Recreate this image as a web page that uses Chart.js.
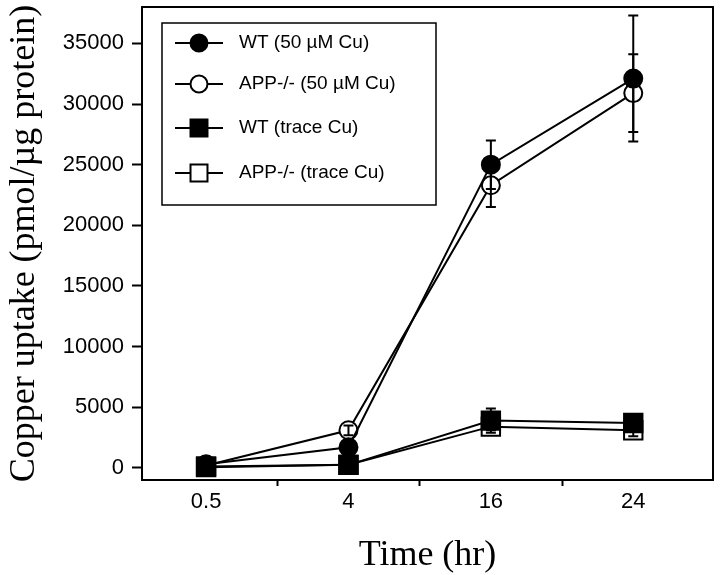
<!DOCTYPE html>
<html>
<head>
<meta charset="utf-8">
<script src="https://cdn.jsdelivr.net/npm/chart.js@4"></script>
<style>
  html, body { margin: 0; padding: 0; background: #fff; }
  #wrap { width: 720px; height: 575px; }
</style>
</head>
<body>
<div id="wrap"><canvas id="copperChart" width="720" height="575"></canvas></div>
<script>
const times = ['0.5', '4', '16', '24'];
const yTicks = [0, 5000, 10000, 15000, 20000, 25000, 30000, 35000];

const wt50 = [300, 1700, 25000, 32100];
const app50 = [200, 3100, 23300, 30900];
const wtTrace = [120, 250, 3900, 3700];
const appTrace = [60, 250, 3400, 3100];

const wt50Err = [0, 0, 2000, 5200];
const app50Err = [0, 400, 1800, 3200];
const wtTraceErr = [0, 0, 1000, 300];
const appTraceErr = [0, 0, 300, 500];

const legendLabels = ['WT (50 µM Cu)', 'APP-/- (50 µM Cu)', 'WT (trace Cu)', 'APP-/- (trace Cu)'];

function toPoints(values) {
  return values.map((v, i) => ({ x: i, y: v }));
}

function makeSet(label, values, errs, style, filled, order) {
  return {
    label: label,
    data: toPoints(values),
    errors: errs,
    order: order,
    borderColor: '#000',
    borderWidth: 2,
    pointStyle: style,
    pointRadius: style === 'rect' ? 13 : 9,
    pointBorderWidth: 2,
    pointBorderColor: '#000',
    pointBackgroundColor: filled ? '#000' : '#fff',
    tension: 0,
    fill: false,
    clip: false
  };
}

// error bars, drawn after the markers
const errorBars = {
  id: 'errorBars',
  afterDatasetsDraw(chart) {
    const ctx = chart.ctx;
    const xs = chart.scales.x, ys = chart.scales.y;
    ctx.save();
    ctx.strokeStyle = '#000';
    ctx.lineWidth = 2;
    chart.data.datasets.forEach(ds => {
      ds.data.forEach((p, i) => {
        const e = ds.errors[i];
        if (!e) return;
        const x = xs.getPixelForValue(p.x);
        const yTop = ys.getPixelForValue(p.y + e);
        const yBot = ys.getPixelForValue(p.y - e);
        ctx.beginPath();
        ctx.moveTo(x, yTop); ctx.lineTo(x, yBot);
        ctx.moveTo(x - 5, yTop); ctx.lineTo(x + 5, yTop);
        ctx.moveTo(x - 5, yBot); ctx.lineTo(x + 5, yBot);
        ctx.stroke();
      });
    });
    ctx.restore();
  }
};

// frame around plot area and the boxed legend inside it
const frameAndLegend = {
  id: 'frameAndLegend',
  afterDraw(chart) {
    const ctx = chart.ctx;
    const a = chart.chartArea;
    ctx.save();
    ctx.strokeStyle = '#000';
    ctx.lineWidth = 2;
    ctx.strokeRect(a.left, a.top, a.right - a.left, a.bottom - a.top);

    const bx = a.left + 20, by = a.top + 16, bw = 274, bh = 182;
    ctx.lineWidth = 1.5;
    ctx.strokeRect(bx, by, bw, bh);

    const rows = [20, 61, 105, 150];
    const sets = [0, 1, 2, 3].map(k => chart.data.datasets.find(d => d.label === legendLabels[k]));
    ctx.font = '19px "Liberation Sans", Arial, sans-serif';
    ctx.textBaseline = 'middle';
    ctx.textAlign = 'left';
    sets.forEach((ds, k) => {
      const cy = by + rows[k];
      ctx.lineWidth = 2;
      ctx.strokeStyle = '#000';
      ctx.beginPath();
      ctx.moveTo(bx + 13, cy); ctx.lineTo(bx + 61, cy);
      ctx.stroke();
      ctx.fillStyle = ds.pointBackgroundColor;
      Chart.helpers.drawPoint(ctx, {
        pointStyle: ds.pointStyle,
        radius: ds.pointStyle === 'rect' ? 12 : 8.5,
        rotation: 0,
        borderWidth: 2
      }, bx + 37, cy);
      ctx.fillStyle = '#000';
      ctx.fillText(ds.label, bx + 77, cy);
    });
    ctx.restore();
  }
};

const whiteBg = {
  id: 'whiteBg',
  beforeDraw(chart) {
    const ctx = chart.ctx;
    ctx.save();
    ctx.fillStyle = '#fff';
    ctx.fillRect(0, 0, chart.width, chart.height);
    ctx.restore();
  }
};

const tickFont = { family: '"Liberation Sans", Arial, sans-serif', size: 22 };
const titleFont = { family: '"Liberation Serif", "Times New Roman", serif', size: 36, lineHeight: 1.1 };

function noPad(s) {
  s.paddingTop = 0; s.paddingBottom = 0; s.paddingLeft = 0; s.paddingRight = 0;
}

new Chart(document.getElementById('copperChart').getContext('2d'), {
  type: 'line',
  data: {
    datasets: [
      makeSet(legendLabels[0], wt50, wt50Err, 'circle', true, 0),
      makeSet(legendLabels[1], app50, app50Err, 'circle', false, 2),
      makeSet(legendLabels[2], wtTrace, wtTraceErr, 'rect', true, 1),
      makeSet(legendLabels[3], appTrace, appTraceErr, 'rect', false, 3)
    ]
  },
  options: {
    responsive: false,
    devicePixelRatio: 1,
    animation: false,
    layout: { autoPadding: false, padding: { top: 7, right: 7, bottom: 0, left: 0 } },
    plugins: {
      legend: { display: false },
      tooltip: { enabled: false }
    },
    scales: {
      x: {
        type: 'linear',
        min: -0.45,
        max: 3.56,
        afterBuildTicks: s => {
          const t = [];
          times.forEach((_, i) => {
            t.push({ value: i });
            if (i < times.length - 1) t.push({ value: i + 0.5 });
          });
          s.ticks = t;
        },
        afterFit: s => { s.height = 95; noPad(s); },
        ticks: {
          autoSkip: false,
          maxRotation: 0,
          color: '#000',
          font: tickFont,
          padding: 3,
          callback: v => Number.isInteger(v) ? times[v] : ''
        },
        grid: {
          drawOnChartArea: false,
          tickLength: 6,
          tickWidth: 2,
          tickColor: c => (c.tick && c.tick.value % 1 !== 0) ? '#000' : 'rgba(0,0,0,0)'
        },
        border: { color: '#000', width: 2 },
        title: {
          display: true,
          text: 'Time (hr)',
          color: '#000',
          font: titleFont,
          padding: { top: 0, bottom: 0 }
        }
      },
      y: {
        min: -1000,
        max: 38000,
        afterBuildTicks: s => { s.ticks = yTicks.map(v => ({ value: v })); },
        afterFit: s => { s.width = 142; noPad(s); },
        ticks: {
          color: '#000',
          font: tickFont,
          padding: 8,
          callback: v => String(v)
        },
        grid: {
          drawOnChartArea: false,
          tickLength: 10,
          tickWidth: 2,
          tickColor: '#000'
        },
        border: { color: '#000', width: 2 },
        title: {
          display: true,
          text: 'Copper uptake (pmol/µg protein)',
          color: '#000',
          font: titleFont,
          padding: { top: 5, bottom: 0 }
        }
      }
    }
  },
  plugins: [whiteBg, errorBars, frameAndLegend]
});
</script>
</body>
</html>
